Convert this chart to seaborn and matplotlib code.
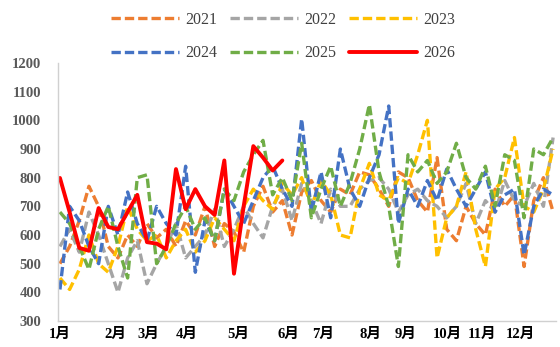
import matplotlib
matplotlib.use("Agg")
import matplotlib.pyplot as plt
import seaborn as sns
import pandas as pd
import numpy as np

years = ["2021", "2022", "2023", "2024", "2025", "2026"]
v2021 = [500, 560, 650, 770, 700, 560, 520, 600, 560, 640, 590, 620, 560, 650, 600, 700, 560, 640, 610, 540,
         700, 770, 680, 720, 600, 750, 790, 720, 680, 760, 740, 820, 810, 760, 700, 820, 800, 720, 680, 870,
         620, 580, 700, 640, 600, 760, 700, 740, 490, 720, 800, 680]
v2022 = [560, 620, 540, 680, 600, 500, 400, 520, 580, 430, 500, 560, 640, 520, 560, 600, 690, 560, 620, 700,
         640, 590, 700, 760, 650, 780, 720, 640, 760, 700, 700, 760, 790, 800, 760, 680, 740, 760, 720, 700,
         660, 700, 780, 640, 720, 680, 790, 720, 700, 780, 700, 940]
v2023 = [450, 410, 480, 600, 500, 470, 560, 700, 620, 580, 600, 520, 580, 620, 540, 580, 660, 620, 580, 700,
         760, 720, 690, 780, 740, 800, 700, 790, 740, 600, 590, 760, 850, 740, 720, 800, 780, 880, 1000, 520,
         660, 700, 820, 620, 490, 760, 800, 940, 700, 680, 760, 900]
v2024 = [410, 700, 650, 560, 500, 700, 600, 750, 640, 580, 700, 640, 600, 840, 470, 650, 580, 760, 700, 640,
         720, 800, 840, 760, 700, 1005, 680, 820, 660, 900, 760, 700, 800, 880, 1050, 640, 760, 700, 790, 720,
         830, 760, 700, 760, 820, 680, 740, 760, 530, 700, 760, 740]
v2025 = [680, 640, 560, 480, 620, 700, 560, 450, 800, 810, 500, 560, 640, 700, 620, 660, 580, 760, 720, 820,
         880, 930, 740, 800, 720, 920, 660, 760, 840, 700, 780, 900, 1055, 820, 700, 490, 880, 820, 860, 780,
         820, 920, 800, 760, 840, 700, 880, 860, 660, 900, 880, 940]
v2026 = [799, 680, 555, 545, 694, 628, 620, 680, 740, 575, 570, 550, 830, 690, 760, 700, 670, 860, 465, 700,
         910, 870, 825, 860]

month_labels = ["1月", "2月", "3月", "4月", "5月", "6月", "7月", "8月", "9月", "10月", "11月", "12月"]
month_pos = [0, 5.7, 9.1, 13.1, 18.4, 23.6, 27.2, 32.1, 35.7, 40.1, 43.7, 47.6]
y_ticks = [300, 400, 500, 600, 700, 800, 900, 1000, 1100, 1200]

colors = ["#ED7D31", "#A5A5A5", "#FFC000", "#4472C4", "#70AD47", "#FF0000"]

series = [v2021, v2022, v2023, v2024, v2025, v2026]
rows = []
for y, vals in zip(years, series):
    for i, v in enumerate(vals):
        rows.append({"week": i, "value": v, "year": y})
df = pd.DataFrame(rows)

sns.set_style("white")
plt.rcParams["font.family"] = ["Liberation Serif", "Noto Sans CJK SC"]

fig = plt.figure(figsize=(5.6, 3.47), dpi=100)
ax = fig.add_axes([58 / 560, 26 / 347, 498 / 560, 258 / 347])

dash = (2.8, 1.2)
dashes = {y: dash for y in years[:-1]}
dashes["2026"] = ""
sns.lineplot(data=df, x="week", y="value", hue="year", style="year",
             hue_order=years, style_order=years,
             palette=dict(zip(years, colors)), dashes=dashes,
             linewidth=2.4, ax=ax, legend=True)

for ln in ax.get_lines():
    c = matplotlib.colors.to_hex(ln.get_color())
    if c.lower() == "#ff0000":
        ln.set_linewidth(2.8)

handles, labels = ax.get_legend_handles_labels()
ax.get_legend().remove()
hmap = dict(zip(labels, handles))
order = ["2021", "2024", "2022", "2025", "2023", "2026"]
hs = [hmap[y] for y in order]
for h in hs:
    if matplotlib.colors.to_hex(h.get_color()).lower() == "#ff0000":
        h.set_linewidth(2.8)
leg = fig.legend(hs, order, loc="center", bbox_to_anchor=(0.505, 0.895), ncol=3,
                 frameon=False, handlelength=4.3, handletextpad=0.35,
                 columnspacing=0.8, labelspacing=1.1,
                 prop={"family": ["Liberation Serif"], "size": 11.5})
for t in leg.get_texts():
    t.set_color("#404040")

ax.set_xlim(-0.2, 51.3)
ax.set_ylim(300, 1200)
ax.set_yticks(y_ticks)
ax.set_yticklabels([str(v) for v in y_ticks], fontsize=10.5, color="#595959",
                   fontweight="bold", family=["Liberation Serif"])
ax.tick_params(axis="y", length=0, pad=12)

major = [-0.2 + 6 * k for k in range(9)]
ax.set_xticks(major)
ax.set_xticklabels([""] * len(major))
ax.set_xticks(month_pos, minor=True)
ax.set_xticklabels(month_labels, minor=True, fontsize=10.5, fontweight="bold",
                   color="#000000", family=["Liberation Serif", "Noto Sans CJK SC"])
ax.tick_params(axis="x", which="major", length=4, color="#BFBFBF", direction="out")
ax.tick_params(axis="x", which="minor", length=0, pad=5)

ax.set_xlabel("")
ax.set_ylabel("")
for s in ["top", "right"]:
    ax.spines[s].set_visible(False)
for s in ["left", "bottom"]:
    ax.spines[s].set_color("#D0D0D0")
    ax.spines[s].set_linewidth(1.0)
ax.grid(False)

fig.savefig("out.png", dpi=100)
